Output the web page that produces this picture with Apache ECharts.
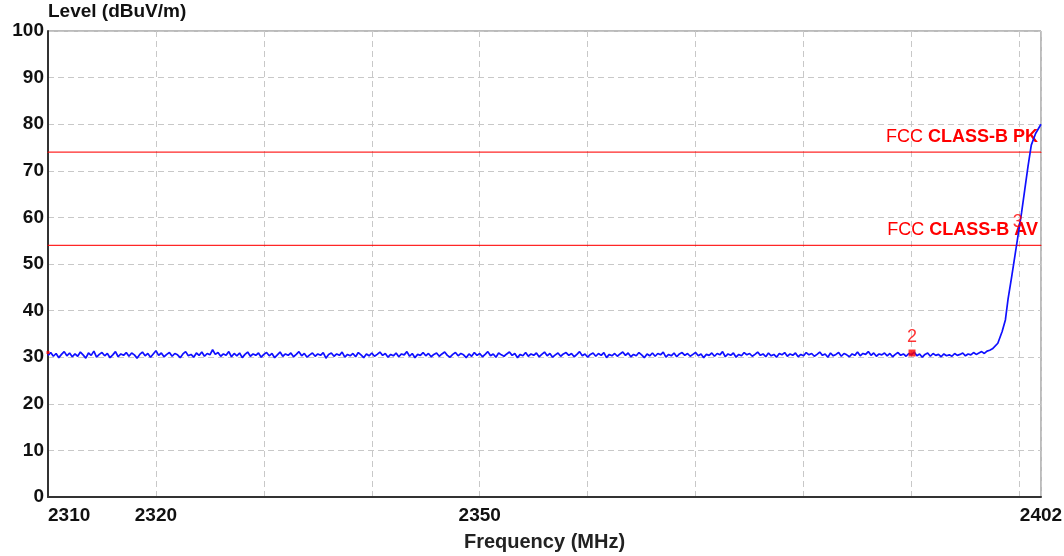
<!DOCTYPE html>
<html><head><meta charset="utf-8">
<script src="https://cdn.jsdelivr.net/npm/echarts@6/dist/echarts.min.js"></script>
<style>html,body{margin:0;padding:0;background:#fff}#c{width:1064px;height:556px}</style>
</head><body><div id="c"></div>
<script>
// Flat noise section: sampled every 0.25 MHz starting 2310 MHz
const noiseStart = 2310, noiseStep = 0.25;
const noiseLevels = [
 30.4,31.0,30.2,30.8,29.9,30.6,31.2,30.3,30.9,30.1,
 30.7,30.2,31.1,30.5,29.8,30.9,30.4,31.3,30.0,30.6,
 31.0,30.3,30.8,29.9,30.5,31.2,30.1,30.7,30.4,31.0,
 30.2,30.9,30.5,29.8,30.6,31.1,30.3,30.8,30.0,30.7,
 31.4,30.4,30.9,30.1,30.6,31.0,30.2,30.8,30.5,29.9,
 30.7,31.2,30.3,30.6,30.0,30.9,30.4,31.1,30.2,30.8,
 30.5,31.6,30.6,31.0,30.2,30.7,30.4,31.2,30.1,30.8,
 30.3,30.9,29.9,30.6,31.1,30.2,30.7,30.4,30.9,30.0,
 30.6,31.0,30.3,30.8,29.9,30.5,31.1,30.2,30.7,30.4,
 30.9,30.1,30.6,31.2,30.3,30.8,30.0,30.5,30.9,30.2,
 30.7,30.4,31.0,29.8,30.6,30.9,30.2,30.7,30.4,31.1,
 30.0,30.6,30.3,30.8,30.1,31.0,30.5,29.9,30.7,30.3,
 30.9,30.2,30.6,31.1,30.4,30.8,30.0,30.6,30.3,30.9,
 30.1,30.7,30.5,31.2,30.2,30.8,29.9,30.6,30.4,31.0,
 30.3,30.8,30.1,30.6,30.9,30.2,30.7,31.1,30.4,30.0,
 30.6,31.0,30.3,30.8,30.5,29.9,30.7,30.2,31.0,30.4,
 30.8,30.1,30.6,31.2,30.3,30.7,30.0,30.9,30.5,30.2,
 30.7,31.1,30.4,30.8,29.9,30.6,30.3,31.0,30.2,30.7,
 30.4,30.9,30.1,30.6,31.1,30.3,30.8,30.0,30.5,30.9,
 30.2,30.7,31.0,30.4,30.8,30.1,30.6,31.2,30.3,30.7,
 30.0,30.6,30.9,30.2,30.8,30.4,31.0,29.9,30.6,30.3,
 30.8,30.2,30.7,31.1,30.4,30.9,30.1,30.6,30.3,31.0,
 30.5,29.9,30.7,30.3,30.9,30.2,30.8,30.5,31.1,30.0,
 30.6,30.3,30.9,30.1,30.7,31.0,30.4,30.8,30.2,30.6,
 31.0,30.3,30.7,29.9,30.6,30.4,30.9,30.2,30.8,30.5,
 31.2,30.1,30.7,30.4,30.9,30.0,30.6,30.3,31.0,30.5,
 30.8,30.2,30.6,31.1,30.4,30.7,30.1,30.9,30.3,30.6,
 30.0,30.8,30.5,31.0,30.2,30.7,30.4,30.9,30.1,30.6,
 30.3,31.0,30.5,30.8,30.2,30.6,31.1,30.4,30.7,30.0,
 30.9,30.3,30.6,31.0,30.2,30.8,30.5,30.1,30.7,30.4,
 31.1,30.3,30.8,30.6,31.2,30.4,30.9,30.2,30.7,30.5,
 30.9,30.3,30.8,30.1,30.6,31.0,30.4,30.7,30.2,30.8,
 30.5,31.1,30.3,30.7,30.0,30.6,30.9,30.2,30.8,30.4,
 30.6,30.1,30.7,30.3,30.5,30.2,30.8,30.4,30.6,30.9,
 30.3,30.7,30.5,31.0,30.6,30.9,31.2,30.8,31.3,31.5
];
// Band-edge rise
const riseFreq   = [2397.5,2398.0,2398.4,2398.7,2398.95,2399.3,2399.6,2399.9,2400.2,2400.5,2400.8,2401.1,2401.5,2402.0];
const riseLevels = [31.8,  33.0,  35.5,  38.0,  42.5,   47.5,  52.0,  56.5,  61.0,  66.0,  71.0,  75.5,  78.0,  80.0];

const limitFreq = [2310, 2402];
const limitNames = ['CLASS-B PK', 'CLASS-B AV'];
const limitValues = [74, 54];
const markerFreq   = [2310.0, 2390.05, 2399.85];
const markerLevels = [31.0,   30.9,    56.5];
const markerNames  = ['1','2','3'];

const xLabels = [2310, 2320, 2350, 2402];

const trace = [];
noiseLevels.forEach((v,i)=>trace.push([noiseStart + i*noiseStep, v]));
riseFreq.forEach((f,i)=>trace.push([f, riseLevels[i]]));

const chart = echarts.init(document.getElementById('c'));
const FONT = 'Liberation Sans';

const limitSeries = limitValues.map((lv,k)=>({
  type:'line',z:2,silent:true,symbol:'circle',symbolSize:1,showSymbol:true,
  itemStyle:{color:'#ff0000'},
  lineStyle:{color:'#ff0000',width:1.4,opacity:0.85},
  label:{show:false},
  data:[
    {value:[limitFreq[0],lv]},
    {value:[limitFreq[1],lv],
     label:{show:true,position:'top',align:'right',offset:[-3,-1],
       formatter:'{a|FCC }{b|'+limitNames[k]+'}',
       rich:{a:{fontFamily:FONT,fontSize:18,color:'#ff0000'},
             b:{fontFamily:FONT,fontSize:18,fontWeight:'bold',color:'#ff0000'}}}}
  ]
}));

chart.setOption({
  animation:false,
  backgroundColor:'#fff',
  grid:{left:48,right:23,top:31,bottom:59,show:true,borderColor:'#777',borderWidth:1,
        outerBoundsMode:'none',containLabel:false},
  xAxis:{
    type:'value',min:2310,max:2402,interval:10,
    name:'Frequency (MHz)',nameLocation:'middle',nameGap:35,
    nameTextStyle:{fontFamily:FONT,fontSize:20,fontWeight:'bold',color:'#222'},
    axisLine:{show:true,lineStyle:{color:'#333',width:2}},
    axisTick:{show:false},
    axisLabel:{fontFamily:FONT,fontSize:19,fontWeight:'bold',color:'#111',margin:9,
      showMinLabel:true,showMaxLabel:true,hideOverlap:false,alignMinLabel:'left',
      formatter:v=>xLabels.indexOf(Math.round(v))>=0?String(Math.round(v)):''},
    splitLine:{show:true,lineStyle:{color:'#c8c8c8',type:[6,4],width:1}}
  },
  yAxis:{
    type:'value',min:0,max:100,interval:10,
    name:'Level (dBuV/m)',nameLocation:'end',nameGap:2,
    nameTextStyle:{fontFamily:FONT,fontSize:19,fontWeight:'bold',color:'#111',align:'left',verticalAlign:'bottom'},
    axisLine:{show:true,lineStyle:{color:'#333',width:2}},
    axisTick:{show:false},
    axisLabel:{fontFamily:FONT,fontSize:19,fontWeight:'bold',color:'#111',margin:4},
    splitLine:{show:true,lineStyle:{color:'#c8c8c8',type:[6,4],width:1}}
  },
  series:[
    ...limitSeries,
    {type:'line',data:trace,symbol:'none',lineStyle:{color:'#1010ff',width:1.7},z:3},
    {type:'scatter',z:4,
     data:markerFreq.map((f,i)=>({name:markerNames[i],value:[f,markerLevels[i]],
        symbolSize:i===1?7:(i===0?3:0.1)})),
     symbol:'rect',itemStyle:{color:'#ff0000'},
     label:{show:true,position:'top',distance:3,color:'#ff0000',fontFamily:FONT,fontSize:18,
       formatter:p=>p.dataIndex===0?'':p.name}
    }
  ]
});
</script></body></html>
